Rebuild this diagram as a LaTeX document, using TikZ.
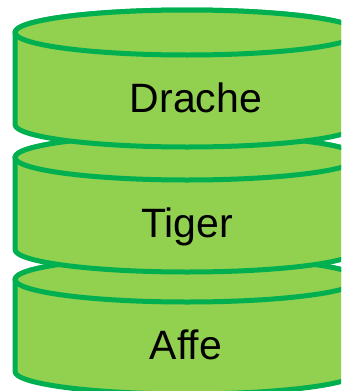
\documentclass[tikz,border=0pt]{standalone}
\usepackage{fontspec}
\setmainfont{Liberation Sans}
\definecolor{cylfill}{HTML}{92D050}
\definecolor{cylline}{HTML}{00B050}

\begin{document}
\begin{tikzpicture}[x=1pt,y=1pt,
        cyl/.style={draw=cylline,fill=cylfill,line width=5pt,line join=round},
        cyllabel/.style={anchor=base,inner sep=0pt,font=\fontsize{41}{49}\selectfont}]
            \useasboundingbox (0,0) rectangle (341,-391);
            \clip (0,0) rectangle (341,-391);

            % lowest cylinder first, so the upper ones lie on top
            \foreach \top/\name/\txt/\tx in {-279.5/affe/Affe/186,-157.5/tiger/Tiger/187,-32.5/drache/Drache/196}{
                \draw[cyl] (15,\top) -- (15,\top-92)
                    arc[start angle=180,end angle=360,x radius=172,y radius=22.5]
                    -- (359,\top)
                    arc[start angle=0,end angle=180,x radius=172,y radius=22.5] -- cycle;
                \draw[cyl] (187,\top) ellipse[x radius=172,y radius=22.5];
                \node[cyllabel] (\name) at (\tx,\top-79.5) {\txt};
            }
        \end{tikzpicture}
\end{document}
